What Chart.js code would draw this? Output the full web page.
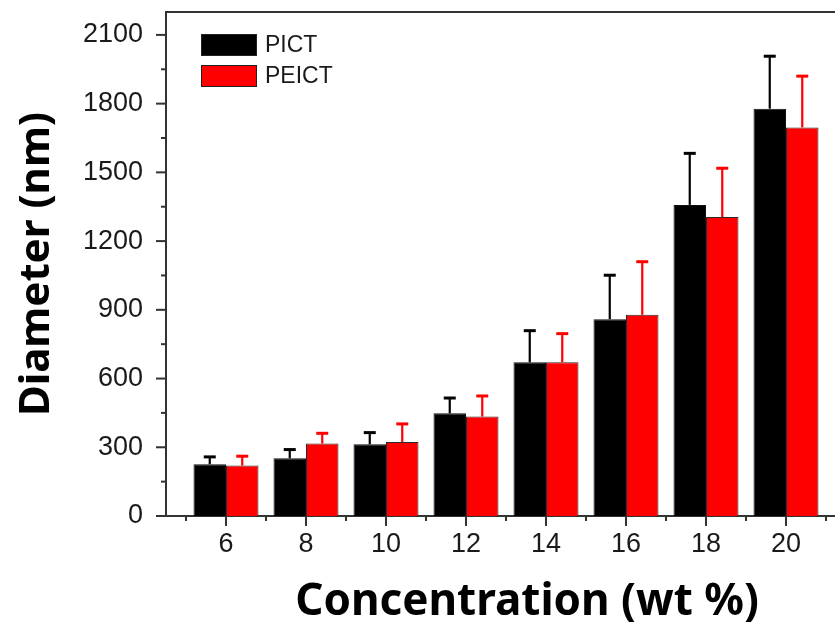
<!DOCTYPE html>
<html>
<head>
<meta charset="utf-8">
<script src="https://cdn.jsdelivr.net/npm/chart.js@4.4.1/dist/chart.umd.min.js"></script>
<style>
  html, body { margin: 0; padding: 0; background: #fff; overflow: hidden; }
  #wrap { position: relative; width: 888px; height: 622px; }
</style>
</head>
<body>
<div id="wrap"><canvas id="chart"></canvas></div>
<script>
// Values.
const concentrations = [6, 8, 10, 12, 14, 16, 18, 20];
const pict = [226, 252, 313, 448, 671, 859, 1358, 1778];
const pictErr = [32, 38, 51, 67, 138, 192, 225, 229];
const peict = [220, 316, 323, 434, 671, 878, 1305, 1696];
const peictErr = [41, 45, 79, 90, 125, 232, 213, 224];

// Tick values: major ones are labelled, minor ones only get a short mark.
const xMajorTicks = [6, 8, 10, 12, 14, 16, 18, 20];
const xMinorTicks = [5, 7, 9, 11, 13, 15, 17, 19, 21];
const yMajorTicks = [0, 300, 600, 900, 1200, 1500, 1800, 2100];
const yMinorTicks = [150, 450, 750, 1050, 1350, 1650, 1950];

const AXIS_COLOR = '#333';
const TEXT_COLOR = '#1a1a1a';
const TITLE_FONT = "'Noto Sans', 'Open Sans', sans-serif";

Chart.defaults.font.family = "'Liberation Sans', Arial, sans-serif";

/**
 * Builds the {x, y} points for one series.
 */
function toPoints(values) {
  return concentrations.map((c, i) => ({ x: c, y: values[i] }));
}

/**
 * Replaces the generated ticks with a fixed list of values.
 */
function fixedTicks(values) {
  return scale => {
    scale.ticks = values.map(v => ({ value: v }));
  };
}

/**
 * Pins an axis to a fixed size and drops the label padding Chart.js adds,
 * so the plot area stays where the reference has it.
 */
function fixedSize(prop, size) {
  return scale => {
    scale[prop] = size;
    scale.paddingTop = scale.paddingBottom = 0;
    scale.paddingLeft = scale.paddingRight = 0;
  };
}

// Upward error bars, drawn from each bar's top through the y scale.
const errorBars = {
  id: 'errorBars',
  afterDatasetsDraw(chart) {
    const { ctx } = chart;
    const yScale = chart.scales.y;
    chart.data.datasets.forEach((ds, d) => {
      const meta = chart.getDatasetMeta(d);
      ctx.save();
      ctx.strokeStyle = ds.errColor;
      meta.data.forEach((bar, i) => {
        const yTop = yScale.getPixelForValue(ds.data[i].y + ds.errors[i]);
        ctx.lineWidth = 2.2;
        ctx.beginPath();
        ctx.moveTo(bar.x, bar.y);
        ctx.lineTo(bar.x, yTop);
        ctx.stroke();
        ctx.lineWidth = 3;
        ctx.beginPath();
        ctx.moveTo(bar.x - 6, yTop);
        ctx.lineTo(bar.x + 6, yTop);
        ctx.stroke();
      });
      ctx.restore();
    });
  }
};

// Frame line on top, plus outward tick marks (long for major, short for minor).
const frameAndTicks = {
  id: 'frameAndTicks',
  afterDraw(chart) {
    const { ctx, chartArea } = chart;
    const { x, y } = chart.scales;
    ctx.save();
    ctx.strokeStyle = AXIS_COLOR;
    ctx.lineWidth = 2;
    ctx.beginPath();
    ctx.moveTo(chartArea.left - 1, chartArea.top);
    ctx.lineTo(chartArea.right, chartArea.top);
    ctx.stroke();

    const xMark = (v, len) => {
      const px = x.getPixelForValue(v);
      ctx.beginPath();
      ctx.moveTo(px, chartArea.bottom);
      ctx.lineTo(px, chartArea.bottom + len);
      ctx.stroke();
    };
    const yMark = (v, len) => {
      const py = y.getPixelForValue(v);
      ctx.beginPath();
      ctx.moveTo(chartArea.left, py);
      ctx.lineTo(chartArea.left - len, py);
      ctx.stroke();
    };
    xMajorTicks.forEach(v => xMark(v, 10));
    xMinorTicks.forEach(v => xMark(v, 5));
    yMajorTicks.forEach(v => yMark(v, 10));
    yMinorTicks.forEach(v => yMark(v, 5));
    ctx.restore();
  }
};

// Legend box in the upper left of the plot.
const insideLegend = {
  id: 'insideLegend',
  afterDraw(chart) {
    const { ctx, chartArea } = chart;
    const left = chartArea.left + 35;
    let top = chartArea.top + 22;
    ctx.save();
    ctx.font = "23px 'Liberation Sans', Arial, sans-serif";
    ctx.textBaseline = 'middle';
    chart.data.datasets.forEach(ds => {
      ctx.fillStyle = ds.backgroundColor;
      ctx.fillRect(left, top, 56, 22);
      ctx.strokeStyle = '#222';
      ctx.lineWidth = 1;
      ctx.strokeRect(left + 0.5, top + 0.5, 55, 21);
      ctx.fillStyle = TEXT_COLOR;
      ctx.fillText(ds.label, left + 64, top + 12);
      top += 31;
    });
    ctx.restore();
  }
};

const canvas = document.getElementById('chart');
new Chart(canvas.getContext('2d'), {
  type: 'bar',
  data: {
    datasets: [
      {
        label: 'PICT',
        data: toPoints(pict),
        errors: pictErr,
        errColor: '#000',
        backgroundColor: '#000000',
        borderColor: '#111',
        borderWidth: 1,
      },
      {
        label: 'PEICT',
        data: toPoints(peict),
        errors: peictErr,
        errColor: '#ff0000',
        backgroundColor: '#ff0000',
        borderColor: '#2a2a2a',
        borderWidth: 1,
      },
    ]
  },
  options: {
    responsive: true,
    maintainAspectRatio: false,
    animation: false,
    categoryPercentage: 0.8125,
    barPercentage: 1,
    layout: { padding: { top: 12, right: 0, left: 0, bottom: 0 } },
    scales: {
      x: {
        type: 'linear',
        min: 4.5,
        max: 22.55,
        offset: false,
        afterBuildTicks: fixedTicks(xMajorTicks),
        afterFit: fixedSize('height', 106),
        grid: { display: false, drawTicks: false, offset: false },
        border: { display: true, color: AXIS_COLOR, width: 2 },
        ticks: {
          autoSkip: false,
          maxRotation: 0,
          padding: 12,
          color: TEXT_COLOR,
          font: { size: 27 },
          callback: v => String(v)
        },
        title: {
          display: true,
          text: 'Concentration (wt %)',
          color: '#000',
          font: { family: TITLE_FONT, size: 44, weight: 'bold', lineHeight: 0.9 },
          padding: { top: 0, bottom: 0 }
        }
      },
      y: {
        min: 0,
        max: 2200,
        afterBuildTicks: fixedTicks(yMajorTicks),
        afterFit: fixedSize('width', 166),
        grid: { display: false, drawTicks: false },
        border: { display: true, color: AXIS_COLOR, width: 2 },
        ticks: {
          autoSkip: false,
          padding: 23,
          color: TEXT_COLOR,
          font: { size: 27 },
          callback: v => String(v)
        },
        title: {
          display: true,
          text: 'Diameter (nm)',
          color: '#000',
          font: { family: TITLE_FONT, size: 42, weight: 'bold' },
          padding: { top: 12, bottom: 0 }
        }
      }
    },
    plugins: {
      legend: { display: false },
      tooltip: { enabled: false }
    }
  },
  plugins: [errorBars, frameAndTicks, insideLegend]
});
</script>
</body>
</html>
